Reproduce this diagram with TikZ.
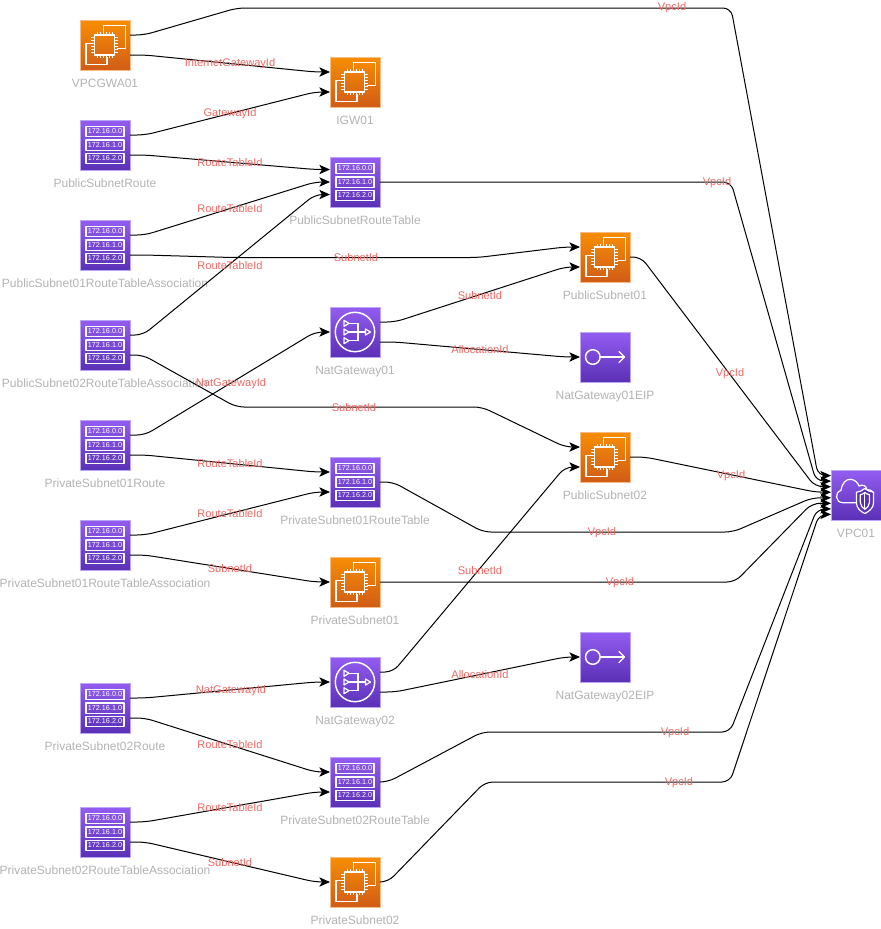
\documentclass[tikz,border=0pt]{standalone}
\usepackage{fontspec}
\setmainfont{Liberation Sans}
\usetikzlibrary{calc,arrows.meta}
\definecolor{orangetop}{HTML}{F78E04}
\definecolor{orangebot}{HTML}{D05C17}
\definecolor{orangeline}{HTML}{F5BC85}
\definecolor{purpletop}{HTML}{945DF2}
\definecolor{purplebot}{HTML}{5A30B5}
\definecolor{purpleline}{HTML}{BCA5F2}
\definecolor{captiongray}{HTML}{B3B3B3}
\definecolor{idred}{HTML}{EA6B66}
\def\chipicon{\begin{scope}[shift={(path picture bounding box.center)},icon]
	\draw (-1.5, -11.5) -- (-1.5, -19.3) -- (20.2, -19.3) -- (20.2, 3.3) -- (11.8, 3.3);
	\draw (-11, -1.7) -- (-19, -1.7) -- (-19, 19.3) -- (2, 19.3) -- (2, 11.7);
	\draw[line width=1.1pt] (-10.5, -10) rectangle (9.5, 10);
	\foreach \p in {-7.5, -4.5, -1.5, 1.5, 4.5, 7.5} {
		\draw[line width=0.7pt] (\p-0.5, -10) -- ++(0, -3.2);
		\draw[line width=0.7pt] (\p-0.5, 10) -- ++(0, 3.2);
		\draw[line width=0.7pt] (-10.5, \p) -- ++(-3.2, 0);
		\draw[line width=0.7pt] (9.5, \p) -- ++(3.2, 0);
	}
\end{scope}}
\def\subneticon{\begin{scope}[shift={(path picture bounding box.center)},icon]
	\foreach \r/\ry in {0/-13.5, 1/0, 2/13.5} {
		\draw[line width=1.05pt] (-19, \ry-5.2) rectangle (19, \ry+5.2);
		\node[iptext] (iprow\r) at (0, \ry) {172.16.\r.0};
	}
\end{scope}}
\def\naticon{\begin{scope}[shift={(path picture bounding box.center)},icon]
	\draw[line width=1.1pt] (0, 0) circle (19.7);
	\foreach \t in {-8.7, 0, 8.7} {
		\draw (-11, \t-3) -- (-6, \t) -- (-11, \t+3) -- cycle;
		\draw (-6, \t) -- (3, \t);
	}
	\draw (3, -8.7) -- (3, 8.7);
	\draw (3, 0) -- (10.5, 0);
	\draw (10.5, -3) -- (15.5, 0) -- (10.5, 3) -- cycle;
\end{scope}}
\def\eipicon{\begin{scope}[shift={(path picture bounding box.center)},icon]
	\draw[line width=1.1pt] (-12.2, 0) circle (7.3);
	\draw (-4.9, 0) -- (19.5, 0);
	\draw (13.8, -5.8) -- (19.5, 0) -- (13.8, 5.8);
\end{scope}}
\def\vpcicon{\begin{scope}[shift={(path picture bounding box.center)},icon]
	\draw (0, 7.7) -- (-13, 7.7) .. controls (-21, 7.7) and (-21.5, -3) .. (-15, -4.5)
		.. controls (-14, -12) and (-10, -16) .. (-5.5, -15.7)
		.. controls (-1, -15.5) and (2, -12) .. (3, -9)
		.. controls (7, -11) and (11, -9) .. (10.5, -5.5)
		.. controls (13, -5.5) and (16, -5) .. (18, -1.5);
	\draw[fill=purplebot] (8.8, -6.5) .. controls (11, -4.5) and (14, -3) .. (17.5, -2.8) -- (17.5, 8)
		.. controls (17.5, 13) and (13, 16.5) .. (8.8, 18.5)
		.. controls (4.5, 16.5) and (0.5, 13) .. (0.5, 8) -- (0.5, -2.8)
		.. controls (3.5, -3) and (6.5, -4.5) .. (8.8, -6.5) -- cycle;
	\draw (8.8, -2.5) .. controls (10, -1.5) and (12, -0.5) .. (13.5, -0.3) -- (13.5, 7.5)
		.. controls (13.5, 10.5) and (11, 13) .. (8.8, 14.3)
		.. controls (6.5, 13) and (4.3, 10.5) .. (4.3, 7.5) -- (4.3, -0.3)
		.. controls (6, -0.5) and (7.5, -1.5) .. (8.8, -2.5) -- cycle;
	\draw (8.8, -2.5) -- (8.8, 14.3);
\end{scope}}
\tikzset{
	icon/.style={draw=white, line width=0.9pt, line join=round},
	iptext/.style={text=white, font=\fontsize{5.4}{6}\selectfont, inner sep=0pt},
	box/.style={rectangle, minimum size=37.5pt, inner sep=0pt, outer sep=0pt, line width=0.75pt},
	orangebox/.style={box, draw=orangeline, top color=orangetop, bottom color=orangebot},
	purplebox/.style={box, draw=purpleline, top color=purpletop, bottom color=purplebot},
	chip/.style={orangebox, path picture={\chipicon}, label={[caption]below:#1}},
	subnet/.style={purplebox, path picture={\subneticon}, label={[caption]below:#1}},
	nat/.style={purplebox, path picture={\naticon}, label={[caption]below:#1}},
	eip/.style={purplebox, path picture={\eipicon}, label={[caption]below:#1}},
	vpc/.style={purplebox, path picture={\vpcicon}, label={[caption]below:#1}},
	caption/.style={text=captiongray, font=\fontsize{9}{10}\selectfont, inner sep=0pt, outer sep=0pt, label distance=6.6pt, text height=6.5pt, text depth=2pt},
	ref/.style={-{Stealth[length=8pt, width=7pt, inset=2pt]}, line width=0.75pt, rounded corners=6pt},
	idlabel/.style={text=idred, font=\fontsize{8.3}{9}\selectfont, inner sep=0pt, yshift=-0.2pt}
}
\begin{document}
\begin{tikzpicture}[x=0.75pt, y=-0.75pt]
	%%%%% START %%%%%
	\path[use as bounding box, fill=white] (0, 0) rectangle (881, 929);

	\node[chip=VPCGWA01] (vpcgwa) at (105, 45) {};
	\node[chip=IGW01] (igw) at (355, 82) {};
	\node[subnet=PublicSubnetRoute] (pubroute) at (105, 145) {};
	\node[subnet=PublicSubnetRouteTable] (pubrt) at (355, 182) {};
	\node[subnet=PublicSubnet01RouteTableAssociation] (pubassoc01) at (105, 245) {};
	\node[subnet=PublicSubnet02RouteTableAssociation] (pubassoc02) at (105, 345) {};
	\node[chip=PublicSubnet01] (pub01) at (605, 257) {};
	\node[nat=NatGateway01] (nat01) at (355, 332) {};
	\node[eip=NatGateway01EIP] (eip01) at (605, 357) {};
	\node[chip=PublicSubnet02] (pub02) at (605, 457) {};
	\node[subnet=PrivateSubnet01Route] (privroute01) at (105, 445) {};
	\node[subnet=PrivateSubnet01RouteTable] (privrt01) at (355, 482) {};
	\node[subnet=PrivateSubnet01RouteTableAssociation] (privassoc01) at (105, 545) {};
	\node[chip=PrivateSubnet01] (priv01) at (355, 582) {};
	\node[nat=NatGateway02] (nat02) at (355, 682) {};
	\node[eip=NatGateway02EIP] (eip02) at (605, 657) {};
	\node[subnet=PrivateSubnet02Route] (privroute02) at (105, 708) {};
	\node[subnet=PrivateSubnet02RouteTable] (privrt02) at (355, 782) {};
	\node[subnet=PrivateSubnet02RouteTableAssociation] (privassoc02) at (105, 832) {};
	\node[chip=PrivateSubnet02] (priv02) at (355, 882) {};
	\node[vpc=VPC01] (vpc01) at (856, 495) {};

	\draw[ref] ($(vpcgwa.east)+(0, -10)$) -- ++(14, 0) -- (237, 8) -- (731, 8) -- (818, 475.6) -- ($(vpc01.west)+(0, -19.4)$);
	\draw[ref] ($(vpcgwa.east)+(0, 10)$) -- ++(15, 0) -- (315, 72) -- ($(igw.west)+(0, -10)$);
	\draw[ref] ($(pubroute.east)+(0, -10)$) -- ++(15, 0) -- (315, 92) -- ($(igw.west)+(0, 10)$);
	\draw[ref] ($(pubroute.east)+(0, 10)$) -- ++(15, 0) -- (315, 169.5) -- ($(pubrt.west)+(0, -12.5)$);
	\draw[ref] ($(pubassoc01.east)+(0, -10)$) -- ++(15, 0) -- (315, 182) -- (pubrt.west);
	\draw[ref] ($(pubassoc01.east)+(0, 10)$) -- ++(15, 0) -- (232, 257.5) -- (478, 257.5) -- (565, 247) -- ($(pub01.west)+(0, -10)$);
	\draw[ref] ($(pubassoc02.east)+(0, -10)$) -- ++(13, 0) -- (315, 194.5) -- ($(pubrt.west)+(0, 12.5)$);
	\draw[ref] ($(pubassoc02.east)+(0, 10)$) -- ++(13, 0) -- (236, 407) -- (482, 407) -- (565, 447) -- ($(pub02.west)+(0, -10)$);
	\draw[ref] ($(privroute01.east)+(0, -10)$) -- ++(15, 0) -- (315, 332) -- (nat01.west);
	\draw[ref] ($(privroute01.east)+(0, 10)$) -- ++(15, 0) -- (315, 472) -- ($(privrt01.west)+(0, -10)$);
	\draw[ref] ($(privassoc01.east)+(0, -10)$) -- ++(15, 0) -- (315, 492) -- ($(privrt01.west)+(0, 10)$);
	\draw[ref] ($(privassoc01.east)+(0, 10)$) -- ++(15, 0) -- (315, 582) -- (priv01.west);
	\draw[ref] ($(privroute02.east)+(0, -10)$) -- ++(15, 0) -- (315, 682) -- (nat02.west);
	\draw[ref] ($(privroute02.east)+(0, 10)$) -- ++(15, 0) -- (315, 772) -- ($(privrt02.west)+(0, -10)$);
	\draw[ref] ($(privassoc02.east)+(0, -10)$) -- ++(15, 0) -- (315, 792) -- ($(privrt02.west)+(0, 10)$);
	\draw[ref] ($(privassoc02.east)+(0, 10)$) -- ++(15, 0) -- (315, 882) -- (priv02.west);

	\draw[ref] (pubrt.east) -- (731, 182) -- (816, 481.1) -- ($(vpc01.west)+(0, -13.9)$);
	\draw[ref] (pub01.east) -- (641, 257) -- (815, 486.7) -- ($(vpc01.west)+(0, -8.3)$);
	\draw[ref] (pub02.east) -- (645, 457) -- (816, 492.2) -- ($(vpc01.west)+(0, -2.8)$);
	\draw[ref] (privrt01.east) -- (393, 482) -- (483, 532) -- (733, 532) -- (812, 497.8) -- ($(vpc01.west)+(0, 2.8)$);
	\draw[ref] (priv01.east) -- (735, 582) -- (812, 503.3) -- ($(vpc01.west)+(0, 8.3)$);
	\draw[ref] (privrt02.east) -- (388, 782) -- (482, 732) -- (730, 732) -- (817, 508.9) -- ($(vpc01.west)+(0, 13.9)$);
	\draw[ref] (priv02.east) -- (388, 882) -- (485, 782) -- (730, 782) -- (819, 514.4) -- ($(vpc01.west)+(0, 19.4)$);

	\draw[ref] ($(nat01.east)+(0, -10)$) -- ++(15, 0) -- (565, 267) -- ($(pub01.west)+(0, 10)$);
	\draw[ref] ($(nat01.east)+(0, 10)$) -- ++(15, 0) -- (565, 357) -- (eip01.west);
	\draw[ref] ($(nat02.east)+(0, -10)$) -- ++(13, 0) -- (565, 467) -- ($(pub02.west)+(0, 10)$);
	\draw[ref] ($(nat02.east)+(0, 10)$) -- ++(15, 0) -- (565, 657) -- (eip02.west);

	\node[idlabel] (lblvpc1) at (672, 7) {VpcId};
	\node[idlabel] (lblvpc2) at (717, 182) {VpcId};
	\node[idlabel] (lblvpc3) at (730, 373) {VpcId};
	\node[idlabel] (lblvpc4) at (731, 475) {VpcId};
	\node[idlabel] (lblvpc5) at (602, 532) {VpcId};
	\node[idlabel] (lblvpc6) at (620, 582) {VpcId};
	\node[idlabel] (lblvpc7) at (675, 732) {VpcId};
	\node[idlabel] (lblvpc8) at (679, 782) {VpcId};

	\node[idlabel] (lbligw) at (230, 63) {InternetGatewayId};
	\node[idlabel] (lblgw) at (230, 113) {GatewayId};
	\node[idlabel] (lblrt1) at (230, 162) {RouteTableId};
	\node[idlabel] (lblrt2) at (230, 208) {RouteTableId};
	\node[idlabel] (lblrt3) at (230, 265) {RouteTableId};
	\node[idlabel] (lblrt4) at (230, 463) {RouteTableId};
	\node[idlabel] (lblrt5) at (230, 513) {RouteTableId};
	\node[idlabel] (lblrt6) at (230, 744) {RouteTableId};
	\node[idlabel] (lblrt7) at (230, 807) {RouteTableId};
	\node[idlabel] (lblnat1) at (231, 383) {NatGatewayId};
	\node[idlabel] (lblnat2) at (231, 690) {NatGatewayId};
	\node[idlabel] (lblsub1) at (356, 257) {SubnetId};
	\node[idlabel] (lblsub2) at (354, 407) {SubnetId};
	\node[idlabel] (lblsub3) at (480, 295) {SubnetId};
	\node[idlabel] (lblsub4) at (480, 570) {SubnetId};
	\node[idlabel] (lblsub5) at (230, 568) {SubnetId};
	\node[idlabel] (lblsub6) at (230, 862) {SubnetId};
	\node[idlabel] (lblalloc1) at (480, 349) {AllocationId};
	\node[idlabel] (lblalloc2) at (480, 674) {AllocationId};
	%%%%% END %%%%%
\end{tikzpicture}
\end{document}
